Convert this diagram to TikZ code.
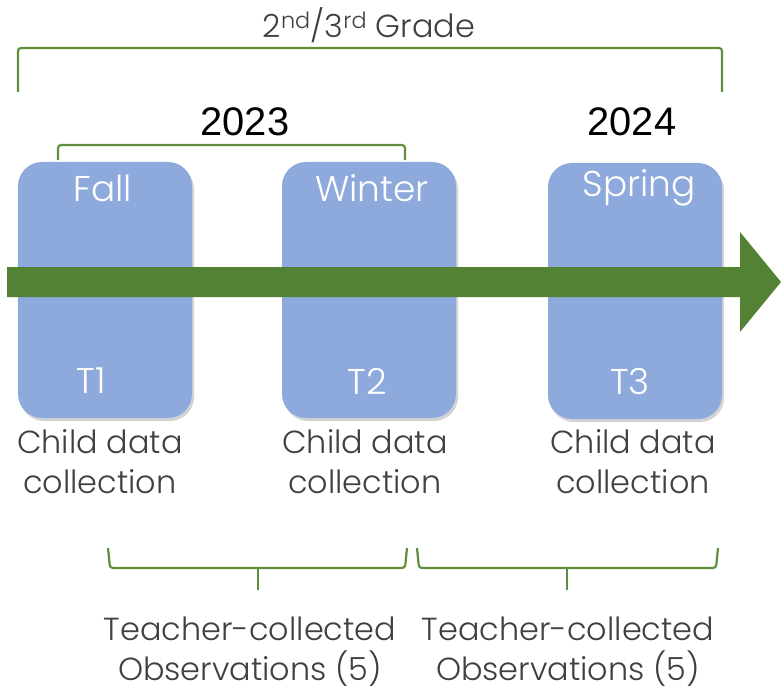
\documentclass[tikz,border=0pt]{standalone}
\usepackage{fontspec}
\setmainfont{Poppins Light}
\newfontfamily\yearfont{Liberation Sans}
\usetikzlibrary{shadows}
\definecolor{boxblue}{HTML}{8EA9DB}
\definecolor{arrgreen}{HTML}{548235}
\definecolor{brgreen}{HTML}{5E8F3C}
\definecolor{txtgray}{HTML}{404040}
\tikzset{
  season/.style={draw=none, fill=boxblue, rounded corners=24bp, minimum width=174bp, minimum height=256bp,
     drop shadow={opacity=0.35, shadow xshift=2bp, shadow yshift=-3bp}},
  boxtext/.style={text=white, font=\fontsize{36}{40}\selectfont},
  label/.style={text=txtgray, font=\fontsize{32}{40}\selectfont, align=center},
  yeartext/.style={text=black, font=\yearfont\fontsize{40}{44}\selectfont},
  bracket/.style={draw=brgreen, line width=2.2bp, rounded corners=3bp}
}
\begin{document}
\begin{tikzpicture}[x=1bp,y=-1bp]
\useasboundingbox (0,0) rectangle (781,692);
% boxes
\node[season] (fall) at (105,290) {};
\node[season] (winter) at (369,290) {};
\node[season] (spring) at (635,291) {};
% arrow
\fill[arrgreen] (7,267) -- (740,267) -- (740,232) -- (781,282) -- (740,332) -- (740,297) -- (7,297) -- cycle;
% box texts
\node[boxtext] (fallt) at (103,188) {Fall};
\node[boxtext] (wintert) at (372,188) {Winter};
\node[boxtext] (springt) at (639,188) {Spring};
\node[boxtext] (t1) at (91,381) {T1};
\node[boxtext] (t2) at (367,381) {T2};
\node[boxtext] (t3) at (630,381) {T3};
% labels
\node[label] (l1) at (100,462) {Child data\\collection};
\node[label] (l2) at (365,462) {Child data\\collection};
\node[label] (l3) at (633,462) {Child data\\collection};
% top
\node[text=txtgray, font=\fontsize{32}{36}\selectfont] (grade) at (369,25) {2\textsuperscript{nd}/3\textsuperscript{rd} Grade};
\draw[bracket] (18,92) -- (18,48) -- (722,48) -- (722,92);
\node[yeartext] (y23) at (245,122) {2023};
\node[yeartext] (y24) at (632,122) {2024};
\draw[bracket] (58,160) -- (58,145) -- (405,145) -- (405,160);
% lower brackets
\draw[bracket] (108,548) -- (110,568) -- (405,568) -- (407,548);
\draw[bracket] (258,568) -- (258,590);
\draw[bracket] (417,548) -- (419,568) -- (716,568) -- (718,548);
\draw[bracket] (567,568) -- (567,590);
\node[label] (o1) at (250,652) {Teacher-collected\\Observations (5)};
\node[label] (o2) at (568,652) {Teacher-collected\\Observations (5)};
\end{tikzpicture}
\end{document}
